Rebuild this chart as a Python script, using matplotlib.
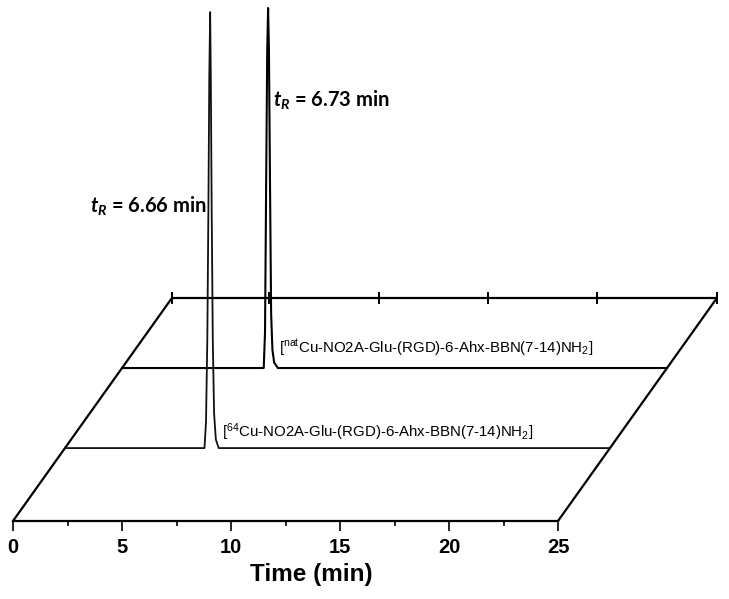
import numpy as np
import matplotlib.pyplot as plt

plt.rcParams['mathtext.fontset'] = 'custom'
plt.rcParams['mathtext.it'] = 'Lato:italic:bold'
plt.rcParams['mathtext.rm'] = 'Liberation Sans'

# bottom time axis (min)
time_ticks = [0, 5, 10, 15, 20, 25]
minor_ticks = [2.5, 7.5, 12.5, 17.5, 22.5]
back_ticks = [0, 4.45, 9.5, 14.5, 19.5, 25]

# 64Cu trace (radio detector), signal relative to peak max
cu64_t = [0, 6.40, 6.47, 6.53, 6.58, 6.62, 6.66, 6.69, 6.73, 6.78, 6.84, 6.92, 7.05, 25]
cu64_s = [0, 0, 0.06, 0.25, 0.55, 0.85, 1.0, 0.85, 0.55, 0.25, 0.08, 0.02, 0, 0]

# natCu trace (UV detector)
nat_t = [0, 6.50, 6.56, 6.61, 6.66, 6.70, 6.74, 6.79, 6.84, 6.90, 6.98, 7.15, 25]
nat_s = [0, 0, 0.10, 0.50, 0.88, 1.0, 0.88, 0.50, 0.15, 0.05, 0.015, 0, 0]

# pseudo-3d layout
back_dx, back_dy = 7.29, 223
depth = {'cu64': 0.327, 'nat': 0.686}
height = {'cu64': 436, 'nat': 360}

fig = plt.figure(figsize=(7.29, 5.99), dpi=100)
ax = fig.add_axes([13/729, 78/599, 545/729, 521/599])
ax.set_xlim(0, 25)
ax.set_ylim(0, 521)
for s in ['top', 'left', 'right']:
	ax.spines[s].set_visible(False)
ax.spines['bottom'].set_linewidth(1.6)
ax.set_yticks([])
ax.set_xticks(time_ticks)
ax.set_xticks(minor_ticks, minor=True)
ax.tick_params(axis='x', which='major', direction='out', length=7.5, width=1.2, pad=5,
			   labelsize=14.5)
ax.tick_params(axis='x', which='minor', direction='out', length=3.8, width=1.2)
for lab in ax.get_xticklabels():
	lab.set_fontfamily('Liberation Sans')
	lab.set_fontweight('bold')
ax.set_xlabel('Time (min)', fontsize=17.5, fontweight='bold', family='Liberation Sans')
ax.xaxis.set_label_coords(0.547, -0.081)

# parallelogram frame
kw = dict(color='black', lw=1.6, clip_on=False, solid_capstyle='butt')
ax.plot([0, back_dx], [0, back_dy], **kw)
ax.plot([25, 25 + back_dx], [0, back_dy], **kw)
ax.plot([back_dx, 25 + back_dx], [back_dy, back_dy], **kw)
for t in back_ticks:
	ax.plot([t + back_dx, t + back_dx], [back_dy - 5, back_dy + 5], color='black', lw=1.4, clip_on=False)

def shifted(t, s, name):
	f = depth[name]
	x = np.array(t) + f * back_dx
	y = np.array(s) * height[name] + f * back_dy
	return x, y

x, y = shifted(nat_t, nat_s, 'nat')
ax.plot(x, y, color='black', lw=1.5, clip_on=False)
x, y = shifted(cu64_t, cu64_s, 'cu64')
ax.plot(x, y, color='#111111', lw=1.3, clip_on=False)

# annotations
ax.text(3.53, 308, r'$t_R$ = 6.66 min', fontsize=14.5, fontweight='bold', family='Lato',
		ha='left', va='baseline')
ax.text(11.93, 414, r'$t_R$ = 6.73 min', fontsize=14.5, fontweight='bold', family='Lato',
		ha='left', va='baseline')
ax.text(12.2, 169, r'[$^{\mathregular{nat}}$Cu-NO2A-Glu-(RGD)-6-Ahx-BBN(7-14)NH$_\mathregular{2}$]',
		fontsize=10.8, family='Liberation Sans', ha='left', va='baseline')
ax.text(9.59, 84, r'[$^{\mathregular{64}}$Cu-NO2A-Glu-(RGD)-6-Ahx-BBN(7-14)NH$_\mathregular{2}$]',
		fontsize=10.8, family='Liberation Sans', ha='left', va='baseline')

fig.savefig('out.png', dpi=100)
